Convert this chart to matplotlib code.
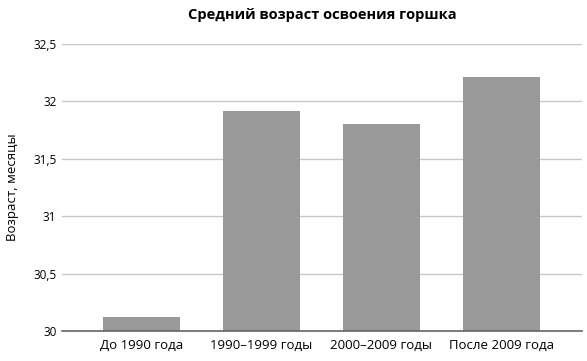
import matplotlib
matplotlib.use("Agg")
import matplotlib.pyplot as plt
from matplotlib.ticker import FuncFormatter

categories = ["До 1990 года", "1990–1999 годы", "2000–2009 годы", "После 2009 года"]
values = [30.12, 31.92, 31.80, 32.21]
yticks = [30, 30.5, 31, 31.5, 32, 32.5]

plt.rcParams['font.family'] = ['Open Sans', 'DejaVu Sans']

fig = plt.figure(figsize=(5.87, 3.61), dpi=100)
ax = fig.add_axes([62/587, 1-331/361, 520/587, (331-44)/361])

x = list(range(len(categories)))
ax.bar(x, values, width=0.64, color="#999999", zorder=3)
ax.set_xlim(-0.66, 3.67)
ax.set_ylim(30, 32.5)
ax.set_yticks(yticks)
ax.yaxis.set_major_formatter(FuncFormatter(lambda v, p: f"{v:g}".replace(".", ",")))
ax.set_xticks(x)
ax.set_xticklabels(categories, fontsize=9.5)
ax.tick_params(axis="y", labelsize=8.5, length=0, pad=4)
ax.tick_params(axis="x", length=0, pad=6)
ax.grid(axis="y", color="#c8c8c8", linewidth=1, zorder=0)
for s in ["top", "right", "left"]:
    ax.spines[s].set_visible(False)
ax.spines["bottom"].set_color("#666666")
ax.spines["bottom"].set_linewidth(1.2)
ax.spines["bottom"].set_zorder(4)
ax.set_ylabel("Возраст, месяцы", fontsize=9.5, labelpad=10)
ax.set_title("Средний возраст освоения горшка", fontsize=10.5, fontweight="bold", pad=18)
fig.savefig("out.png", dpi=100)
